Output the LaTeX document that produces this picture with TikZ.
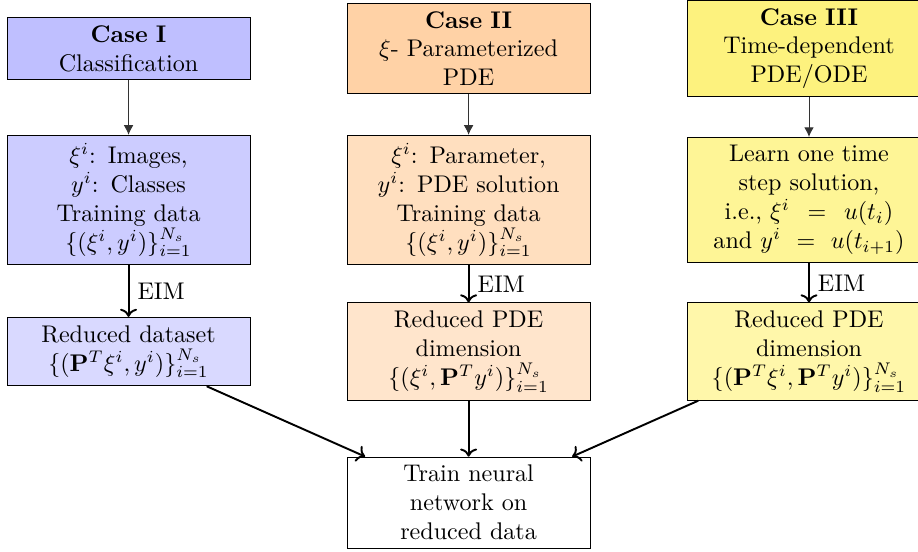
\documentclass[tikz,border=0pt]{standalone}
\usepackage{tikz}
\usetikzlibrary{arrows.meta, positioning}
\usepackage{amsmath}
\usepackage{xcolor}
\definecolor{caseThreeTop}{RGB}{253,242,126}
\definecolor{caseThreeMid}{RGB}{254,245,150}
\definecolor{caseThreeLow}{RGB}{255,247,170}
\tikzset{%
	every case/.style={
		draw,
		text width=3.31cm,
		align=center
	},
	step arrow/.style={
		draw=black!80,
		-{Latex[length=4pt,width=4pt]}
	},
	eim arrow/.style={
		thick,
		->
	},
}

\begin{document}
\begin{tikzpicture}
			% Define the page size of the picture
			\useasboundingbox (0,0) rectangle (13.39,-8.05);
			% Define the column positions and the row heights
			\newcommand{\colA}{1.875}
			\newcommand{\colB}{6.835}
			\newcommand{\colC}{11.80}
			
			% Top row: the three cases
			\node[every case, fill=blue!25] (case1) at (\colA,-0.708) {\textbf{Case I}\\Classification};
			\node[every case, fill=orange!35] (case2) at (\colB,-0.708) {\textbf{Case II}\\$\xi$- Parameterized\\PDE};
			\node[every case, fill=caseThreeTop] (case3) at (\colC,-0.708) {\textbf{Case III}\\Time-dependent\\PDE/ODE};
			
			% Middle row: the training data
			\node[every case, fill=blue!20] (data1) at (\colA,-2.918) {$\xi^i$: Images,\\$y^i$: Classes\\Training data\\$\{(\xi^i,y^i)\}_{i=1}^{N_s}$};
			\node[every case, fill=orange!25] (data2) at (\colB,-2.918) {$\xi^i$: Parameter,\\$y^i$: PDE solution\\Training data\\$\{(\xi^i,y^i)\}_{i=1}^{N_s}$};
			\node[every case, fill=caseThreeMid] (data3) at (\colC,-2.918) {Learn one time\\step solution,\\i.e., $\xi^i \:=\: u(t_i)$\\and $y^i \:=\: u(t_{i+1})$};
			
			% Bottom row: the reduced data
			\node[every case, fill=blue!15] (red1) at (\colA,-5.128) {Reduced dataset\\$\{(\mathbf{P}^T\xi^i,y^i)\}_{i=1}^{N_s}$};
			\node[every case, fill=orange!20] (red2) at (\colB,-5.128) {Reduced PDE\\dimension\\$\{(\xi^i,\mathbf{P}^Ty^i)\}_{i=1}^{N_s}$};
			\node[every case, fill=caseThreeLow] (red3) at (\colC,-5.128) {Reduced PDE\\dimension\\$\{(\mathbf{P}^T\xi^i,\mathbf{P}^Ty^i)\}_{i=1}^{N_s}$};
			
			% The network
			\node[every case] (train) at (\colB,-7.33) {Train neural\\network on\\reduced data};
			
			% Loop through the columns to draw the arrows
			\foreach \c in {1,2,3} {
				\draw[step arrow] (case\c) -- (data\c);
				\draw[eim arrow] (data\c) -- node[right] {EIM} (red\c);
				\draw[eim arrow] (red\c) -- (train);
			}
		\end{tikzpicture}
\end{document}
